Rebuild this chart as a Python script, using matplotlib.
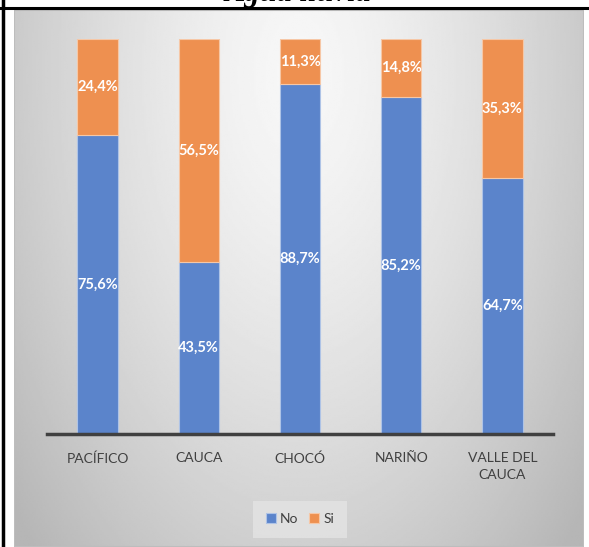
import numpy as np
import matplotlib
matplotlib.use("Agg")
import matplotlib.pyplot as plt
from matplotlib.patches import Rectangle

# ── Data ─────────────────────────────────────────────
regions = ["PACÍFICO", "CAUCA", "CHOCÓ", "NARIÑO", "VALLE DEL\nCAUCA"]
no_vals = [75.6, 43.5, 88.7, 85.2, 64.7]
si_vals = [24.4, 56.5, 11.3, 14.8, 35.3]
title = "Agua lluvia"

plt.rcParams["font.family"] = ["Lato", "DejaVu Sans"]

W, H = 589, 547
fig = plt.figure(figsize=(W / 100, H / 100), dpi=100)

# ── Chart background (radial gray gradient) ──
bx0, by0, bx1, by1 = 14, 10, 584, 547
bg = fig.add_axes([bx0 / W, 1 - by1 / H, (bx1 - bx0) / W, (by1 - by0) / H])
gx, gy = np.meshgrid(np.linspace(-1, 1, 300), np.linspace(0, 1, 300))
r = np.sqrt((gx / 1.1) ** 2 + ((gy - 0.12) / 1.05) ** 2)
shade = 0.97 - 0.20 * np.clip(r, 0, 1.2) ** 1.4
bg.imshow(shade, cmap="gray", vmin=0, vmax=1, aspect="auto",
          extent=[0, 1, 1, 0], interpolation="bilinear")
bg.set_xlim(0, 1)
bg.set_ylim(1, 0)
bg.axis("off")
bg.add_patch(Rectangle((0, 0), 1, 1, transform=bg.transAxes, fill=False,
                       edgecolor="#bdbdbd", linewidth=1.5))

# ── Page frame lines ──
fig.add_artist(plt.Line2D([0, 587 / W], [1 - 8 / H, 1 - 8 / H],
                          color="black", linewidth=2.2, transform=fig.transFigure))
fig.add_artist(plt.Line2D([3 / W, 3 / W], [0, 1], color="black",
                          linewidth=2.5, transform=fig.transFigure))
# title is cut by the page edge, as in the source document
fig.text(298 / W, 1 - 1.5 / H, title, ha="center", va="baseline",
         family="Liberation Serif", fontweight="bold", fontstyle="italic",
         fontsize=22)

# ── Bars ──
ax_l, ax_r, ax_t, ax_b = 47, 553, 39, 434
ax = fig.add_axes([ax_l / W, 1 - ax_b / H, (ax_r - ax_l) / W, (ax_b - ax_t) / H])
ax.patch.set_alpha(0)
x = np.arange(len(regions))
bw = 0.40
blue, orange = "#5B84CB", "#EE9050"
ax.bar(x, no_vals, bw, color=blue, edgecolor="#aec3e6", linewidth=0.8,
       label="No", zorder=3)
ax.bar(x, si_vals, bw, bottom=no_vals, color=orange, edgecolor="#f6c7a6",
       linewidth=0.8, label="Si", zorder=3)

for xi, n, s in zip(x, no_vals, si_vals):
    ax.text(xi, n / 2, f"{n:.1f}%".replace(".", ","), ha="center", va="center",
            color="white", fontweight="bold", fontsize=10.5, zorder=4)
    ax.text(xi, n + s / 2, f"{s:.1f}%".replace(".", ","), ha="center",
            va="center", color="white", fontweight="bold", fontsize=10.5, zorder=4)

ax.set_xlim(-0.5, len(regions) - 0.5)
ax.set_ylim(0, 100)
ax.set_yticks([])
ax.set_xticks(x)
ax.set_xticklabels(regions, fontsize=10, color="#404040", linespacing=1.5)
ax.tick_params(axis="x", length=0, pad=13)
for side in ["top", "right", "left"]:
    ax.spines[side].set_visible(False)
ax.spines["bottom"].set_color("#404040")
ax.spines["bottom"].set_linewidth(2.5)
ax.spines["bottom"].set_zorder(5)

leg = ax.legend(loc="center", bbox_to_anchor=(0.5, (ax_b - 519) / (ax_b - ax_t)),
                ncol=2, frameon=True, fontsize=10, handlelength=0.7,
                handleheight=0.7, handletextpad=0.3, columnspacing=0.8,
                borderpad=0.9, labelcolor="#404040")
leg.get_frame().set_facecolor("#e4e4e4")
leg.get_frame().set_edgecolor("none")
leg.get_frame().set_alpha(0.8)
leg.get_frame().set_boxstyle("square", pad=0)

fig.savefig("out.png", dpi=100, facecolor="white")
